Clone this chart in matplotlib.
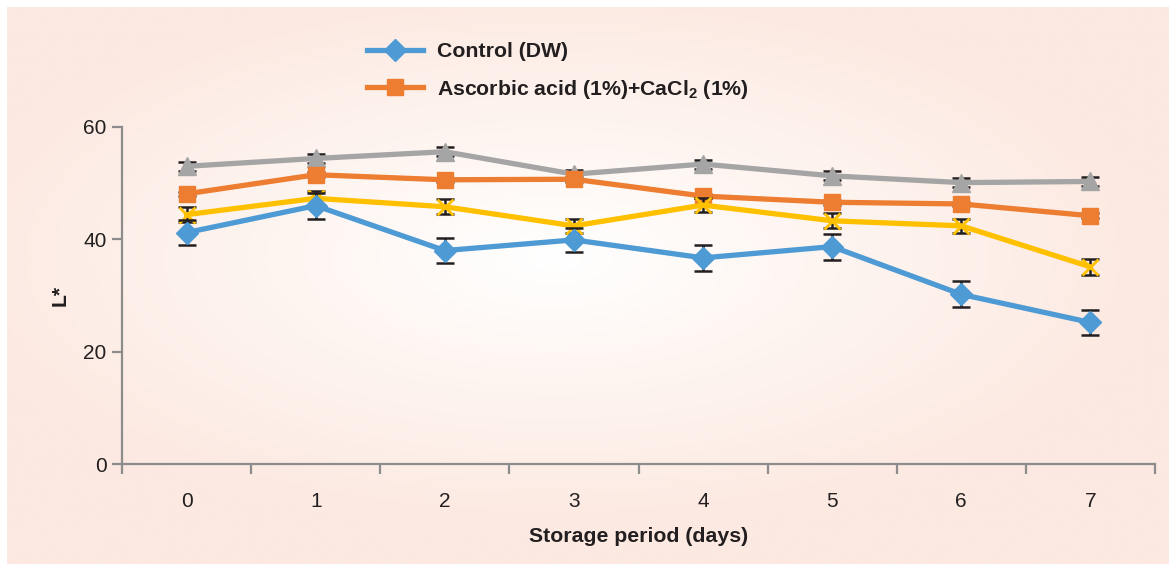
import numpy as np
import matplotlib
matplotlib.use("Agg")
import matplotlib.pyplot as plt
from matplotlib.lines import Line2D
from matplotlib.colors import LinearSegmentedColormap

plt.rcParams['font.family'] = ['Liberation Sans', 'DejaVu Sans']

days = [0, 1, 2, 3, 4, 5, 6, 7]
x_labels = ["0", "1", "2", "3", "4", "5", "6", "7"]

control = [41.2, 46.0, 38.0, 39.9, 36.7, 38.7, 30.2, 25.2]
control_err = [2.2, 2.3, 2.3, 2.2, 2.3, 2.3, 2.3, 2.3]

ascorbic = [48.1, 51.5, 50.6, 50.7, 47.7, 46.6, 46.3, 44.2]
ascorbic_err = [0.4, 0.4, 0.4, 0.4, 0.4, 0.4, 0.4, 0.4]

series3 = [53.0, 54.4, 55.6, 51.6, 53.4, 51.3, 50.1, 50.3]
series3_err = [0.8, 0.8, 0.8, 0.8, 0.8, 0.8, 0.8, 0.8]

series4 = [44.4, 47.3, 45.8, 42.4, 46.1, 43.3, 42.4, 35.1]
series4_err = [1.4, 1.3, 1.3, 1.3, 1.3, 1.3, 1.3, 1.4]

legend_labels = ["Control (DW)", r"Ascorbic acid (1%)+CaCl$_\mathregular{2}$ (1%)"]

W, H = 1169, 564
fig = plt.figure(figsize=(W / 100, H / 100), dpi=100)
fig.patch.set_facecolor("white")

# background panel with radial gradient
bg = fig.add_axes([7 / W, 0, 1 - 7 / W, 1 - 7 / H])
bg.set_axis_off()
nx, ny = 400, 200
xx, yy = np.meshgrid(np.linspace(0, 1, nx), np.linspace(0, 1, ny))
cx, cy = 0.47, 0.45
r = np.sqrt(((xx - cx) / 0.8) ** 2 + ((yy - cy) / 0.75) ** 2)
r = np.clip(r / r.max() * 1.5, 0, 1)
cmap = LinearSegmentedColormap.from_list("bgc", ["#FFFFFF", "#FEF4EF", "#FCE9E1"])
bg.imshow(r, cmap=cmap, aspect="auto", extent=[0, 1, 0, 1], origin="upper", vmin=0, vmax=1)
bg.set_xlim(0, 1)
bg.set_ylim(0, 1)

ax = fig.add_axes([122 / W, 1 - 464 / H, (1155 - 122) / W, (464 - 127) / H])
ax.patch.set_alpha(0)

text_color = "#231F20"
axis_color = "#8C8C8C"

specs = [
    (series3, series3_err, "#A5A5A5", "^", 13, "#A5A5A5"),
    (ascorbic, ascorbic_err, "#ED7D31", "s", 12, "#ED7D31"),
    (series4, series4_err, "#FFC000", "x", 12, "#FFC000"),
    (control, control_err, "#4E9AD4", "D", 11, "#4E9AD4"),
]
z = 3
for vals, errs, col, mk, ms, mc in specs:
    ax.errorbar(days, vals, yerr=errs, fmt="none", ecolor="#231F20", elinewidth=1.8,
                capsize=6.5, capthick=1.8, zorder=z)
    ax.plot(days, vals, color=col, lw=3.8, marker=mk, markersize=ms,
            markerfacecolor=mc, markeredgecolor=mc, markeredgewidth=2 if mk == "x" else 1,
            zorder=z + 1)
    z += 2

ax.set_xlim(-0.5, 7.5)
ax.set_ylim(0, 60)

ax.set_xticks(np.arange(-0.5, 8, 1))
ax.set_xticklabels([])
ax.set_xticks(days, minor=True)
ax.set_xticklabels(x_labels, minor=True)
ax.tick_params(axis="x", which="major", length=7, width=1.6, color=axis_color, direction="out")
ax.tick_params(axis="x", which="minor", length=0, pad=20, labelsize=15, labelcolor=text_color)

ax.set_yticks([0, 20, 40, 60])
ax.tick_params(axis="y", length=7, width=1.6, color=axis_color, direction="out", pad=4,
               labelsize=15, labelcolor=text_color)

for s in ["top", "right"]:
    ax.spines[s].set_visible(False)
for s in ["left", "bottom"]:
    ax.spines[s].set_color(axis_color)
    ax.spines[s].set_linewidth(1.6)

ax.set_xlabel("Storage period (days)", fontsize=15.3, fontweight="bold", color=text_color, labelpad=12)
ax.set_ylabel("L*", fontsize=15.3, fontweight="bold", color=text_color, labelpad=10)

handles = [
    Line2D([], [], color="#4E9AD4", lw=3.8, marker="D", markersize=11, markeredgecolor="#4E9AD4"),
    Line2D([], [], color="#ED7D31", lw=3.8, marker="s", markersize=12, markeredgecolor="#ED7D31"),
]
leg = fig.legend(handles, legend_labels, loc="upper left", bbox_to_anchor=(348 / W, 1 - 23 / H),
                 frameon=False, handlelength=2.65, handletextpad=0.65, labelspacing=0.78,
                 prop={"weight": "bold", "size": 15.3})
for t in leg.get_texts():
    t.set_color(text_color)

fig.savefig("out.png", dpi=100)
